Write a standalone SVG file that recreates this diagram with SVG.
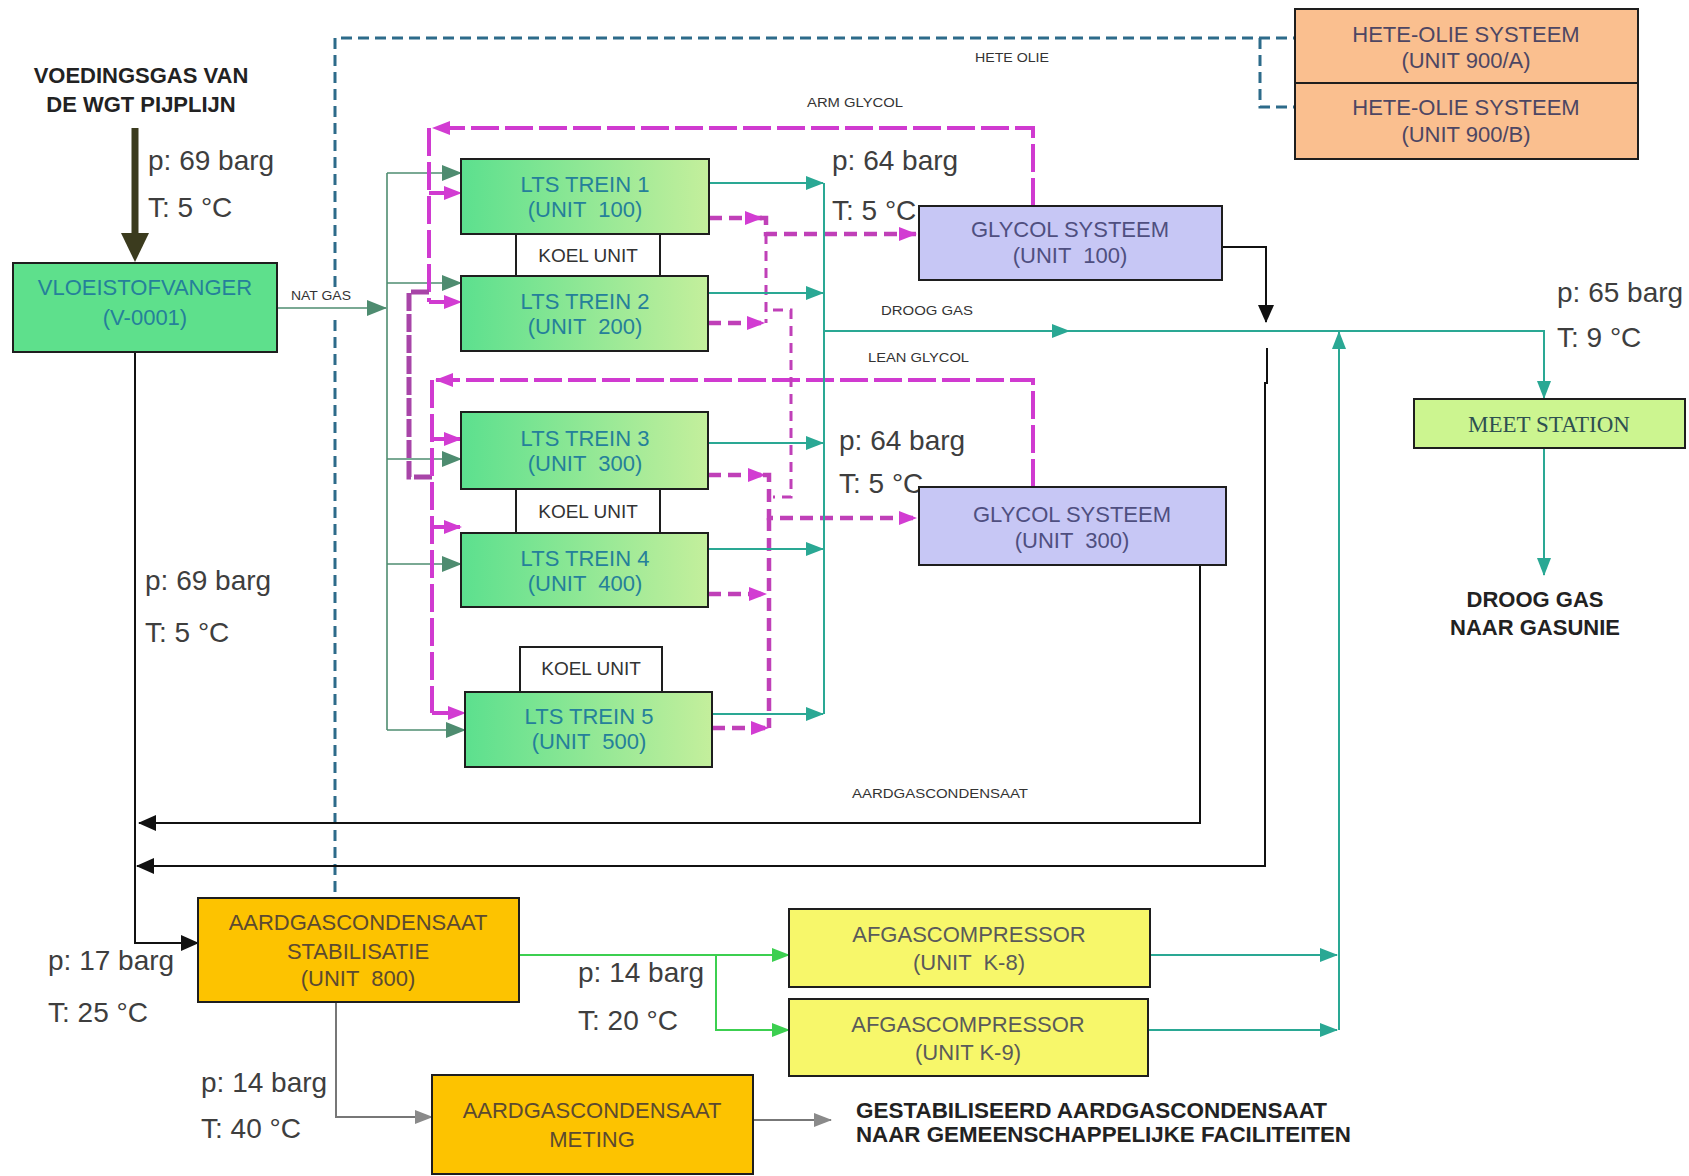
<svg xmlns="http://www.w3.org/2000/svg" width="1689" height="1176" viewBox="0 0 1689 1176">
<defs>
<linearGradient id="ltsGrad" x1="0" y1="0" x2="1" y2="0">
<stop offset="0" stop-color="#5ce08e"/>
<stop offset="1" stop-color="#c4ef9c"/>
</linearGradient>
<marker id="aTeal" markerUnits="userSpaceOnUse" markerWidth="18" markerHeight="14" refX="17" refY="7" orient="auto"><path d="M0,0 L18,7 L0,14 z" fill="#2aa894"/></marker>
<marker id="aNat" markerUnits="userSpaceOnUse" markerWidth="20" markerHeight="16" refX="19" refY="8" orient="auto"><path d="M0,0 L20,8 L0,16 z" fill="#4e8c70"/></marker>
<marker id="aMag" markerUnits="userSpaceOnUse" markerWidth="18" markerHeight="14" refX="17" refY="7" orient="auto"><path d="M0,0 L18,7 L0,14 z" fill="#d23cd2"/></marker>
<marker id="aBlk" markerUnits="userSpaceOnUse" markerWidth="18" markerHeight="16" refX="17" refY="8" orient="auto"><path d="M0,0 L18,8 L0,16 z" fill="#111"/></marker>
<marker id="aGrn" markerUnits="userSpaceOnUse" markerWidth="18" markerHeight="14" refX="17" refY="7" orient="auto"><path d="M0,0 L18,7 L0,14 z" fill="#3ccf50"/></marker>
<marker id="aGray" markerUnits="userSpaceOnUse" markerWidth="18" markerHeight="14" refX="17" refY="7" orient="auto"><path d="M0,0 L18,7 L0,14 z" fill="#8a8a8a"/></marker>
</defs>
<style>
.box{stroke:#1e1e1e;stroke-width:2}
.t{font-family:"Liberation Sans",Arial,sans-serif;text-anchor:middle;font-size:22px}
.tg{fill:#25809a}
.tk{fill:#333}
.th{fill:#4d4663}
.tgl{fill:#4f4f80}
.tm{font-family:"Liberation Serif","Times New Roman",serif;font-size:23px;fill:#2e5050;text-anchor:middle}
.ta{fill:#5c4a30}
.tf{fill:#5a5a5a}
.big{font-family:"Liberation Sans",Arial,sans-serif;font-size:28px;fill:#3e3e3e}
.bold{font-family:"Liberation Sans",Arial,sans-serif;font-size:22px;font-weight:bold;fill:#222}
.small{font-family:"Liberation Sans",Arial,sans-serif;font-size:12px;fill:#333}
.teal{stroke:#2aa894;stroke-width:2;fill:none}
.nat{stroke:#4e8c70;stroke-width:1.6;fill:none}
.mag{stroke:#d03ad0;stroke-width:4;fill:none;stroke-dasharray:28 6}
.mag2{stroke:#c040b8;stroke-width:4.5;fill:none;stroke-dasharray:13 7}
.magt{stroke:#c040b8;stroke-width:3;fill:none;stroke-dasharray:10 7}
.magb{stroke:#a845a8;stroke-width:5;fill:none;stroke-dasharray:18 3}
.blk{stroke:#111;stroke-width:2;fill:none}
.grn{stroke:#3ccf50;stroke-width:2;fill:none}
.gry{stroke:#777;stroke-width:2;fill:none}
.blu{stroke:#2d6b8a;stroke-width:3;fill:none;stroke-dasharray:11 6}
</style>
<rect width="1689" height="1176" fill="#ffffff"/>

<g id="connectors">
<!-- feed arrow -->
<path d="M135,128 V236" stroke="#3b3b1e" stroke-width="7" fill="none"/>
<polygon points="121,233 149,233 135,262" fill="#3b3b1e"/>
<!-- hete olie dashed -->
<path class="blu" d="M335,892 V317 M335,287 V38 H1295"/>
<path class="blu" d="M1260,38 V107 H1295"/>
<!-- nat gas -->
<path class="nat" d="M277,308 H386" marker-end="url(#aNat)"/>
<path class="nat" d="M387,173 V730"/>
<path class="nat" d="M387,173 H461" marker-end="url(#aNat)"/>
<path class="nat" d="M387,283 H461" marker-end="url(#aNat)"/>
<path class="nat" d="M387,459 H461" marker-end="url(#aNat)"/>
<path class="nat" d="M387,564 H461" marker-end="url(#aNat)"/>
<path class="nat" d="M387,730 H465" marker-end="url(#aNat)"/>
<!-- arm glycol -->
<path class="mag" d="M1033,206 V128 H433" marker-end="url(#aMag)"/>
<path class="mag" d="M429,128 V302"/>
<path class="mag" d="M429,193 H461" marker-end="url(#aMag)"/>
<path class="mag" d="M429,302 H461" marker-end="url(#aMag)"/>
<path class="magb" d="M429,292 H409 V477 H432"/>
<!-- lean glycol -->
<path class="mag" d="M1033,487 V380 H436" marker-end="url(#aMag)"/>
<path class="mag" d="M432,380 V713"/>
<path class="mag" d="M432,439 H461" marker-end="url(#aMag)"/>
<path class="mag" d="M432,527 H461" marker-end="url(#aMag)"/>
<path class="mag" d="M432,713 H465" marker-end="url(#aMag)"/>
<!-- glycol returns -->
<path class="mag2" d="M709,218 H762" marker-end="url(#aMag)"/>
<path class="mag2" d="M760,218 H766 V234 H916" marker-end="url(#aMag)"/>
<path class="magt" d="M766,234 V323"/>
<path class="mag2" d="M708,323 H764" marker-end="url(#aMag)"/>
<path class="magt" d="M773,310 H791 V497 H773"/>
<path class="mag2" d="M708,475 H765" marker-end="url(#aMag)"/>
<path class="mag2" d="M763,475 H769 V518 H916" marker-end="url(#aMag)"/>
<path class="mag2" d="M769,518 V728"/>
<path class="mag2" d="M708,594 H766" marker-end="url(#aMag)"/>
<path class="mag2" d="M712,728 H768" marker-end="url(#aMag)"/>
<!-- dry gas -->
<path class="teal" d="M709,183 H823" marker-end="url(#aTeal)"/>
<path class="teal" d="M708,293 H823" marker-end="url(#aTeal)"/>
<path class="teal" d="M708,443 H823" marker-end="url(#aTeal)"/>
<path class="teal" d="M708,549 H823" marker-end="url(#aTeal)"/>
<path class="teal" d="M712,714 H823" marker-end="url(#aTeal)"/>
<path class="teal" d="M824,183 V714"/>
<path class="teal" d="M824,331 H1544 V398" marker-end="url(#aTeal)"/>
<path class="teal" d="M1040,331 H1069" marker-end="url(#aTeal)"/>
<path class="teal" d="M1544,448 V575" marker-end="url(#aTeal)"/>
<path class="teal" d="M1150,955 H1337" marker-end="url(#aTeal)"/>
<path class="teal" d="M1148,1030 H1337" marker-end="url(#aTeal)"/>
<path class="teal" d="M1339,1030 V332" marker-end="url(#aTeal)"/>
<!-- black condensate lines -->
<path class="blk" d="M1222,247 H1266 V322" marker-end="url(#aBlk)"/>
<path class="blk" d="M1267,348 V383 H1265 V866 H137" marker-end="url(#aBlk)"/>
<path class="blk" d="M1200,565 V823 H139" marker-end="url(#aBlk)"/>
<path class="blk" d="M135,352 V943 H198" marker-end="url(#aBlk)"/>
<!-- stabilisation outputs -->
<path class="grn" d="M491,955 H789" marker-end="url(#aGrn)"/>
<path class="grn" d="M716,955 V1030 H789" marker-end="url(#aGrn)"/>
<path class="gry" d="M336,1002 V1117 H432" marker-end="url(#aGray)"/>
<path class="gry" d="M753,1120 H831" marker-end="url(#aGray)"/>
<!-- connector labels -->
<text class="small" x="291" y="300" textLength="60" lengthAdjust="spacingAndGlyphs">NAT GAS</text>
<text class="small" x="975" y="62" textLength="74" lengthAdjust="spacingAndGlyphs">HETE OLIE</text>
<text class="small" x="807" y="107" textLength="96" lengthAdjust="spacingAndGlyphs">ARM GLYCOL</text>
<text class="small" x="881" y="315" textLength="92" lengthAdjust="spacingAndGlyphs">DROOG GAS</text>
<text class="small" x="868" y="362" textLength="101" lengthAdjust="spacingAndGlyphs">LEAN GLYCOL</text>
<text class="small" x="852" y="798" textLength="176" lengthAdjust="spacingAndGlyphs">AARDGASCONDENSAAT</text>
<!-- process conditions -->
<text class="big" x="148" y="170">p: 69 barg</text>
<text class="big" x="148" y="217">T: 5 °C</text>
<text class="big" x="832" y="170">p: 64 barg</text>
<text class="big" x="832" y="220">T: 5 °C</text>
<text class="big" x="839" y="450">p: 64 barg</text>
<text class="big" x="839" y="493">T: 5 °C</text>
<text class="big" x="1557" y="302">p: 65 barg</text>
<text class="big" x="1557" y="347">T: 9 °C</text>
<text class="big" x="145" y="590">p: 69 barg</text>
<text class="big" x="145" y="642">T: 5 °C</text>
<text class="big" x="48" y="970">p: 17 barg</text>
<text class="big" x="48" y="1022">T: 25 °C</text>
<text class="big" x="578" y="982">p: 14 barg</text>
<text class="big" x="578" y="1030">T: 20 °C</text>
<text class="big" x="201" y="1092">p: 14 barg</text>
<text class="big" x="201" y="1138">T: 40 °C</text>
</g>

<g id="feed">
<text class="bold" x="141" y="83" text-anchor="middle">VOEDINGSGAS VAN</text>
<text class="bold" x="141" y="112" text-anchor="middle">DE WGT PIJPLIJN</text>
</g>

<g id="vloeistofvanger">
<rect class="box" x="13" y="263" width="264" height="89" fill="#5ee08c"/>
<text class="t tg" x="145" y="295">VLOEISTOFVANGER</text>
<text class="t tg" x="145" y="325">(V-0001)</text>
</g>

<g id="hete-olie-a">
<rect class="box" x="1295" y="9" width="343" height="74" fill="#fabf8f"/>
<text class="t th" x="1466" y="42">HETE-OLIE SYSTEEM</text>
<text class="t th" x="1466" y="68">(UNIT 900/A)</text>
</g>
<g id="hete-olie-b">
<rect class="box" x="1295" y="83" width="343" height="76" fill="#fabf8f"/>
<text class="t th" x="1466" y="115">HETE-OLIE SYSTEEM</text>
<text class="t th" x="1466" y="142">(UNIT 900/B)</text>
</g>

<g id="lts1">
<rect class="box" x="461" y="159" width="248" height="75" fill="url(#ltsGrad)"/>
<text class="t tg" x="585" y="192">LTS TREIN 1</text>
<text class="t tg" x="585" y="217" xml:space="preserve">(UNIT  100)</text>
</g>
<g id="koel1">
<rect class="box" x="516" y="234" width="144" height="42" fill="#ffffff"/>
<text class="t tk" x="588" y="262" style="font-size:19px">KOEL UNIT</text>
</g>
<g id="lts2">
<rect class="box" x="461" y="276" width="247" height="75" fill="url(#ltsGrad)"/>
<text class="t tg" x="585" y="309">LTS TREIN 2</text>
<text class="t tg" x="585" y="334" xml:space="preserve">(UNIT  200)</text>
</g>
<g id="lts3">
<rect class="box" x="461" y="412" width="247" height="77" fill="url(#ltsGrad)"/>
<text class="t tg" x="585" y="446">LTS TREIN 3</text>
<text class="t tg" x="585" y="471" xml:space="preserve">(UNIT  300)</text>
</g>
<g id="koel2">
<rect class="box" x="516" y="489" width="144" height="44" fill="#ffffff"/>
<text class="t tk" x="588" y="518" style="font-size:19px">KOEL UNIT</text>
</g>
<g id="lts4">
<rect class="box" x="461" y="533" width="247" height="74" fill="url(#ltsGrad)"/>
<text class="t tg" x="585" y="566">LTS TREIN 4</text>
<text class="t tg" x="585" y="591" xml:space="preserve">(UNIT  400)</text>
</g>
<g id="koel3">
<rect class="box" x="520" y="647" width="142" height="45" fill="#ffffff"/>
<text class="t tk" x="591" y="675" style="font-size:19px">KOEL UNIT</text>
</g>
<g id="lts5">
<rect class="box" x="465" y="692" width="247" height="75" fill="url(#ltsGrad)"/>
<text class="t tg" x="589" y="724">LTS TREIN 5</text>
<text class="t tg" x="589" y="749" xml:space="preserve">(UNIT  500)</text>
</g>

<g id="glycol100">
<rect class="box" x="919" y="206" width="303" height="74" fill="#c7c7f5"/>
<text class="t tgl" x="1070" y="237">GLYCOL SYSTEEM</text>
<text class="t tgl" x="1070" y="263" xml:space="preserve">(UNIT  100)</text>
</g>
<g id="glycol300">
<rect class="box" x="919" y="487" width="307" height="78" fill="#c7c7f5"/>
<text class="t tgl" x="1072" y="522">GLYCOL SYSTEEM</text>
<text class="t tgl" x="1072" y="548" xml:space="preserve">(UNIT  300)</text>
</g>

<g id="meetstation">
<rect class="box" x="1414" y="399" width="271" height="49" fill="#ccf590"/>
<text class="tm" x="1549" y="432">MEET STATION</text>
</g>

<g id="droog-gas-out">
<text class="bold" x="1535" y="607" text-anchor="middle">DROOG GAS</text>
<text class="bold" x="1535" y="635" text-anchor="middle">NAAR GASUNIE</text>
</g>

<g id="stabilisatie">
<rect class="box" x="198" y="898" width="321" height="104" fill="#fdc300"/>
<text class="t ta" x="358" y="930">AARDGASCONDENSAAT</text>
<text class="t ta" x="358" y="959">STABILISATIE</text>
<text class="t ta" x="358" y="986" xml:space="preserve">(UNIT  800)</text>
</g>

<g id="afgas-k8">
<rect class="box" x="789" y="909" width="361" height="78" fill="#f7f76a"/>
<text class="t tf" x="969" y="942">AFGASCOMPRESSOR</text>
<text class="t tf" x="969" y="970" xml:space="preserve">(UNIT  K-8)</text>
</g>
<g id="afgas-k9">
<rect class="box" x="789" y="999" width="359" height="77" fill="#f7f76a"/>
<text class="t tf" x="968" y="1032">AFGASCOMPRESSOR</text>
<text class="t tf" x="968" y="1060">(UNIT K-9)</text>
</g>

<g id="meting">
<rect class="box" x="432" y="1075" width="321" height="99" fill="#fdc300"/>
<text class="t ta" x="592" y="1118">AARDGASCONDENSAAT</text>
<text class="t ta" x="592" y="1147">METING</text>
</g>

<g id="gestabiliseerd-out">
<text class="bold" x="856" y="1118" textLength="471" lengthAdjust="spacingAndGlyphs">GESTABILISEERD AARDGASCONDENSAAT</text>
<text class="bold" x="856" y="1142" textLength="495" lengthAdjust="spacingAndGlyphs">NAAR GEMEENSCHAPPELIJKE FACILITEITEN</text>
</g>
</svg>
